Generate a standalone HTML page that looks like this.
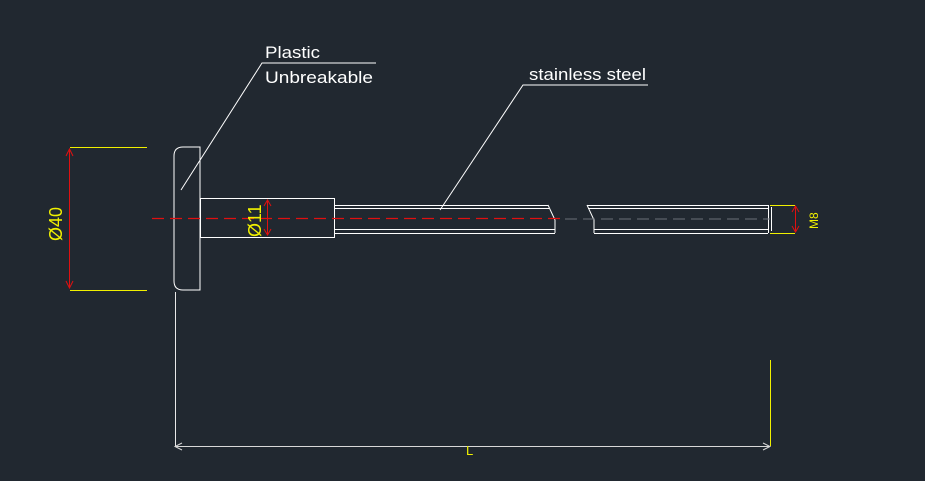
<!DOCTYPE html>
<html><head><style>
html,body{margin:0;padding:0;background:#212830;}
svg{display:block}
text{font-family:"Liberation Sans",sans-serif;}
</style></head><body>
<svg width="925" height="481" viewBox="0 0 925 481" xmlns="http://www.w3.org/2000/svg">
<rect width="925" height="481" fill="#212830"/>
<g fill="none" stroke="#fff" stroke-width="1" shape-rendering="crispEdges">
<path d="M200 147 H183 Q174 147 174 156 V281 Q174 290 183 290 H200 Z" shape-rendering="auto"/>
<rect x="200.5" y="198.5" width="134" height="39"/>
<path d="M334 205.5 H548 M334 208.5 H549 M334 229.5 H555 M334 233.5 H555"/>
<path d="M548 205 L555 220 V233" shape-rendering="auto"/>
<path d="M587 205.5 H768 M588 208.5 H768 M594 229.5 H768 M594 233.5 H768 M768.5 205 V233 M771.5 207 V231"/>
<path d="M587 205 L594 220 V233" shape-rendering="auto"/>
<path d="M181 190 L262 63 H376" shape-rendering="auto"/>
<path d="M440 210 L523 85 H648" shape-rendering="auto"/>
<path d="M175.5 292 V446" stroke="#e8e8e8"/>
</g>
<line x1="152" y1="218.5" x2="565" y2="218.5" stroke="#e01010" stroke-width="1.3" stroke-dasharray="12,6"/>
<line x1="565" y1="219" x2="770" y2="219" stroke="#6a6f78" stroke-width="1" stroke-dasharray="12,6"/>
<g stroke="#f0f000" stroke-width="1" shape-rendering="crispEdges">
<line x1="70" y1="147.5" x2="147" y2="147.5"/>
<line x1="70" y1="290.5" x2="147" y2="290.5"/>
<line x1="770" y1="205.5" x2="795" y2="205.5"/>
<line x1="770" y1="233.5" x2="795" y2="233.5"/>
<line x1="770.5" y1="360" x2="770.5" y2="446"/>
</g>
<g stroke="#e01010" stroke-width="1" fill="none">
<line x1="69.5" y1="149" x2="69.5" y2="288"/>
<path d="M66 156 L69.5 149 L73 156 M66 281 L69.5 288 L73 281"/>
<line x1="267.5" y1="200" x2="267.5" y2="235"/>
<path d="M264 206 L267.5 200 L271 206 M264 229 L267.5 235 L271 229"/>
<line x1="795.5" y1="206" x2="795.5" y2="232"/>
<path d="M792 212 L795.5 206 L799 212 M792 226 L795.5 232 L799 226"/>
</g>
<g stroke="#d8d8d8" stroke-width="1" fill="none">
<line x1="175" y1="446.5" x2="770" y2="446.5"/>
<path d="M182 443 L175 446.5 L182 450 M763 443 L770 446.5 L763 450"/>
</g>
<text x="265" y="58" fill="#fff" font-size="17" textLength="55" lengthAdjust="spacingAndGlyphs">Plastic</text>
<text x="265" y="83" fill="#fff" font-size="17" textLength="108" lengthAdjust="spacingAndGlyphs">Unbreakable</text>
<text x="529" y="80" fill="#fff" font-size="17" textLength="117" lengthAdjust="spacingAndGlyphs">stainless steel</text>
<text transform="translate(62,241) rotate(-90)" fill="#f0f000" font-size="18">Ø40</text>
<text transform="translate(261,237) rotate(-90)" fill="#f0f000" font-size="18">Ø11</text>
<text transform="translate(818,229) rotate(-90)" fill="#f0f000" font-size="12">M8</text>
<text x="466" y="455" fill="#f0f000" font-size="13">L</text>
</svg>
</body></html>
